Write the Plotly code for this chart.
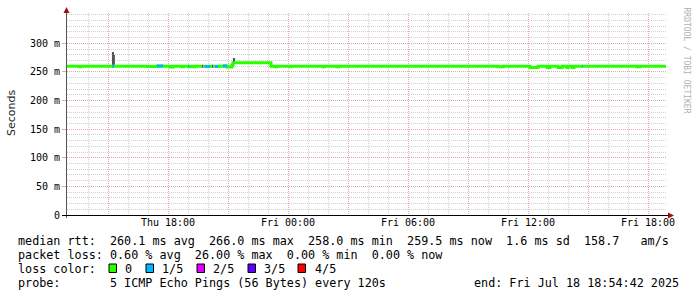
import plotly.graph_objects as go
from datetime import datetime, timedelta

# ---------------- data ----------------
seg_time = [
    "2025-07-17 12:57", "2025-07-17 13:36", "2025-07-17 13:39", "2025-07-17 15:12",
    "2025-07-17 15:18", "2025-07-17 17:00", "2025-07-17 17:27", "2025-07-17 17:45",
    "2025-07-17 18:06", "2025-07-17 18:15", "2025-07-17 18:42", "2025-07-17 18:45",
    "2025-07-17 19:00", "2025-07-17 19:03", "2025-07-17 19:09", "2025-07-17 19:18",
    "2025-07-17 19:21", "2025-07-17 19:42", "2025-07-17 19:45", "2025-07-17 19:51",
    "2025-07-17 20:06", "2025-07-17 20:12", "2025-07-17 20:15", "2025-07-17 20:21",
    "2025-07-17 20:30", "2025-07-17 20:45", "2025-07-17 20:57", "2025-07-17 21:12",
    "2025-07-17 21:15", "2025-07-17 23:09", "2025-07-17 23:21", "2025-07-17 23:27",
    "2025-07-18 00:06", "2025-07-18 00:09", "2025-07-18 01:45", "2025-07-18 01:48",
    "2025-07-18 02:27", "2025-07-18 02:33", "2025-07-18 10:30", "2025-07-18 10:45",
    "2025-07-18 12:06", "2025-07-18 12:30", "2025-07-18 12:57", "2025-07-18 13:06",
    "2025-07-18 13:30", "2025-07-18 13:42", "2025-07-18 13:57", "2025-07-18 14:00",
    "2025-07-18 14:12", "2025-07-18 14:18", "2025-07-18 14:42", "2025-07-18 14:45",
    "2025-07-18 17:27", "2025-07-18 17:36",
]
seg_rtt = [
    260.0, 259.2, 260.0, 260.0,
    260.0, 259.4, 260.3, 260.0,
    258.8, 260.0, 259.0, 260.0,
    260.0, 259.2, 260.0, 259.0,
    260.0, 260.0, 260.0, 259.6,
    260.0, 260.0, 260.0, 259.5,
    260.0, 260.5, 258.5, 262.0,
    266.0, 260.0, 259.0, 260.0,
    259.0, 260.0, 259.0, 260.0,
    259.0, 260.0, 259.0, 260.0,
    257.7, 260.0, 257.7, 260.0,
    257.7, 260.0, 257.7, 260.0,
    257.7, 260.0, 260.0, 260.0,
    259.0, 260.0,
]
seg_loss = [
    0, 0, 0, 1,
    0, 0, 1, 0,
    0, 0, 0, 0,
    1, 0, 0, 0,
    0, 2, 0, 1,
    0, 2, 0, 1,
    0, 1, 0, 0,
    0, 0, 0, 0,
    0, 0, 0, 0,
    0, 0, 0, 0,
    0, 0, 0, 0,
    0, 0, 0, 0,
    0, 0, 1, 0,
    0, 0,
]
data_end = "2025-07-18 18:54"

smoke_time = ["2025-07-17 15:15", "2025-07-17 15:19:30", "2025-07-17 21:18", "2025-07-17 21:13:30", "2025-07-17 23:10"]
smoke_lo = [262.0, 262.0, 267.0, 260.0, 260.0]
smoke_hi = [285.0, 279.0, 274.0, 264.0, 265.0]
smoke_color = ["#555555", "#666666", "#555555", "#222222", "#222222"]
smoke_width_min = [6, 3, 3, 2, 2]

loss_labels = ["0", "1/5", "2/5", "3/5", "4/5"]
loss_colors = ["#26ff00", "#00b8ff", "#dd00ff", "#5e00ff", "#ff0000"]

x_tick_times = ["2025-07-17 15:00", "2025-07-17 18:00", "2025-07-17 21:00", "2025-07-18 00:00",
                "2025-07-18 03:00", "2025-07-18 06:00", "2025-07-18 09:00", "2025-07-18 12:00",
                "2025-07-18 15:00", "2025-07-18 18:00"]
x_tick_text = ["", "Thu 18:00", "", "Fri 00:00", "", "Fri 06:00", "", "Fri 12:00", "", "Fri 18:00"]
y_tick_vals = [0, 50, 100, 150, 200, 250, 300]
y_tick_text = ["0", "50 m", "100 m", "150 m", "200 m", "250 m", "300 m"]

legend_line1 = "median rtt:  260.1 ms avg  266.0 ms max  258.0 ms min  259.5 ms now  1.6 ms sd  158.7   am/s"
legend_line2 = "packet loss: 0.60 % avg  26.00 % max  0.00 % min  0.00 % now"
legend_line3 = "loss color:"
legend_line4 = "probe:       5 ICMP Echo Pings (56 Bytes) every 120s"
legend_end = "end: Fri Jul 18 18:54:42 2025"
watermark = "RRDTOOL / TOBI OETIKER"

# ---------------- layout helpers ----------------
W, H = 697, 297
PL, PR, PT, PB = 67, 667, 13, 215


def px(x):
    return (x - PL) / (PR - PL)


def py(y):
    return (PB - y) / (PB - PT)


MONO = "DejaVu Sans Mono"
fig = go.Figure()

# smoke
for t, lo, hi, c, wm in zip(smoke_time, smoke_lo, smoke_hi, smoke_color, smoke_width_min):
    fig.add_trace(go.Bar(x=[t], y=[hi - lo], base=[lo], width=[wm * 60000],
                         marker=dict(color=c, line=dict(width=0)), showlegend=False,
                         hoverinfo="skip"))

# median base line (green, step)
xs = seg_time + [data_end]
ys = seg_rtt + [seg_rtt[-1]]
fig.add_trace(go.Scatter(x=xs, y=ys, mode="lines", line=dict(color=loss_colors[0], width=3, shape="hv"),
                         showlegend=False, hoverinfo="skip"))

# loss-coloured overlays
ends = seg_time[1:] + [data_end]
for lvl in range(1, 5):
    ox, oy = [], []
    for s, e, v, l in zip(seg_time, ends, seg_rtt, seg_loss):
        if l == lvl:
            ox += [s, e, None]
            oy += [v, v, None]
    if ox:
        fig.add_trace(go.Scatter(x=ox, y=oy, mode="lines",
                                 line=dict(color=loss_colors[lvl], width=3),
                                 showlegend=False, hoverinfo="skip"))

t0 = datetime(2025, 7, 17, 12, 57)
t1 = t0 + timedelta(hours=30)

fig.update_layout(
    width=W, height=H,
    margin=dict(l=PL, r=W - PR, t=PT, b=H - PB),
    paper_bgcolor="white", plot_bgcolor="white",
    bargap=0, barmode="overlay",
    showlegend=False,
    xaxis=dict(
        type="date", range=[t0, t1],
        tickmode="array", tickvals=x_tick_times, ticktext=x_tick_text,
        showgrid=True, gridcolor="#e3a8a8", griddash="1px,1px", gridwidth=1,
        ticks="", tickfont=dict(family=MONO, size=10, color="#000"),
        minor=dict(dtick=3600000, tick0="2025-07-17 00:00", showgrid=True,
                   gridcolor="#cfcfcf", griddash="1px,1px", gridwidth=1),
        showline=False, zeroline=False, fixedrange=True,
    ),
    yaxis=dict(
        range=[0, 353], tickmode="array", tickvals=y_tick_vals, ticktext=y_tick_text,
        showgrid=True, gridcolor="#e3a8a8", griddash="1px,1px", gridwidth=1,
        ticks="outside", ticklen=4, tickcolor="#e3a8a8",
        tickfont=dict(family=MONO, size=10, color="#000"),
        minor=dict(dtick=10, tick0=0, showgrid=True, gridcolor="#cfcfcf",
                   griddash="1px,1px", gridwidth=1),
        showline=False, zeroline=False, fixedrange=True,
    ),
)

shapes = []
# y axis line with arrow
shapes.append(dict(type="line", xref="paper", yref="paper", x0=px(66.5), x1=px(66.5),
                   y0=py(218), y1=py(10), line=dict(color="#555555", width=1)))
shapes.append(dict(type="path", xref="paper", yref="paper",
                   path=f"M {px(63.5)} {py(13)} L {px(69.5)} {py(13)} L {px(66.5)} {py(7)} Z",
                   fillcolor="#a01010", line=dict(width=0)))
# x axis line with arrow
shapes.append(dict(type="line", xref="paper", yref="paper", x0=px(62), x1=px(670),
                   y0=py(215.5), y1=py(215.5), line=dict(color="#000000", width=1)))
shapes.append(dict(type="path", xref="paper", yref="paper",
                   path=f"M {px(668)} {py(212.5)} L {px(668)} {py(218.5)} L {px(674)} {py(215.5)} Z",
                   fillcolor="#a01010", line=dict(width=0)))

annotations = []
annotations.append(dict(text="Seconds", xref="paper", yref="paper", x=px(11), y=py(113),
                        textangle=-90, showarrow=False, xanchor="center", yanchor="middle",
                        font=dict(family="DejaVu Sans", size=11, color="#222")))
annotations.append(dict(text=watermark, xref="paper", yref="paper", x=px(686.5), y=py(60),
                        textangle=90, showarrow=False, xanchor="center", yanchor="middle",
                        font=dict(family=MONO, size=8, color="#b0b0b0")))

FS = 11.75


def nb(s):
    return s.replace(" ", "\u00a0")


for txt, yy in [(legend_line1, 241.5), (legend_line2, 255.2), (legend_line3, 268.9), (legend_line4, 282.6)]:
    annotations.append(dict(text=nb(txt), xref="paper", yref="paper", x=px(16), y=py(yy),
                            xanchor="left", yanchor="middle", showarrow=False,
                            font=dict(family=MONO, size=FS, color="#000")))
annotations.append(dict(text=nb(legend_end), xref="paper", yref="paper", x=px(681), y=py(282.6),
                        xanchor="right", yanchor="middle", showarrow=False,
                        font=dict(family=MONO, size=FS, color="#000")))

sq_x = [109, 146, 197, 248, 298]
lab_x = [123, 160, 211, 262, 313]
for lbl, col, sx, lx in zip(loss_labels, loss_colors, sq_x, lab_x):
    shapes.append(dict(type="rect", xref="paper", yref="paper", x0=px(sx), x1=px(sx + 7.5),
                       y0=py(272.5), y1=py(264), fillcolor=col, line=dict(color="#000", width=1)))
    annotations.append(dict(text=nb(lbl), xref="paper", yref="paper", x=px(lx), y=py(268.9),
                            xanchor="left", yanchor="middle", showarrow=False,
                            font=dict(family=MONO, size=FS, color="#000")))

fig.update_layout(shapes=shapes, annotations=annotations)
fig.write_html("out.html")
